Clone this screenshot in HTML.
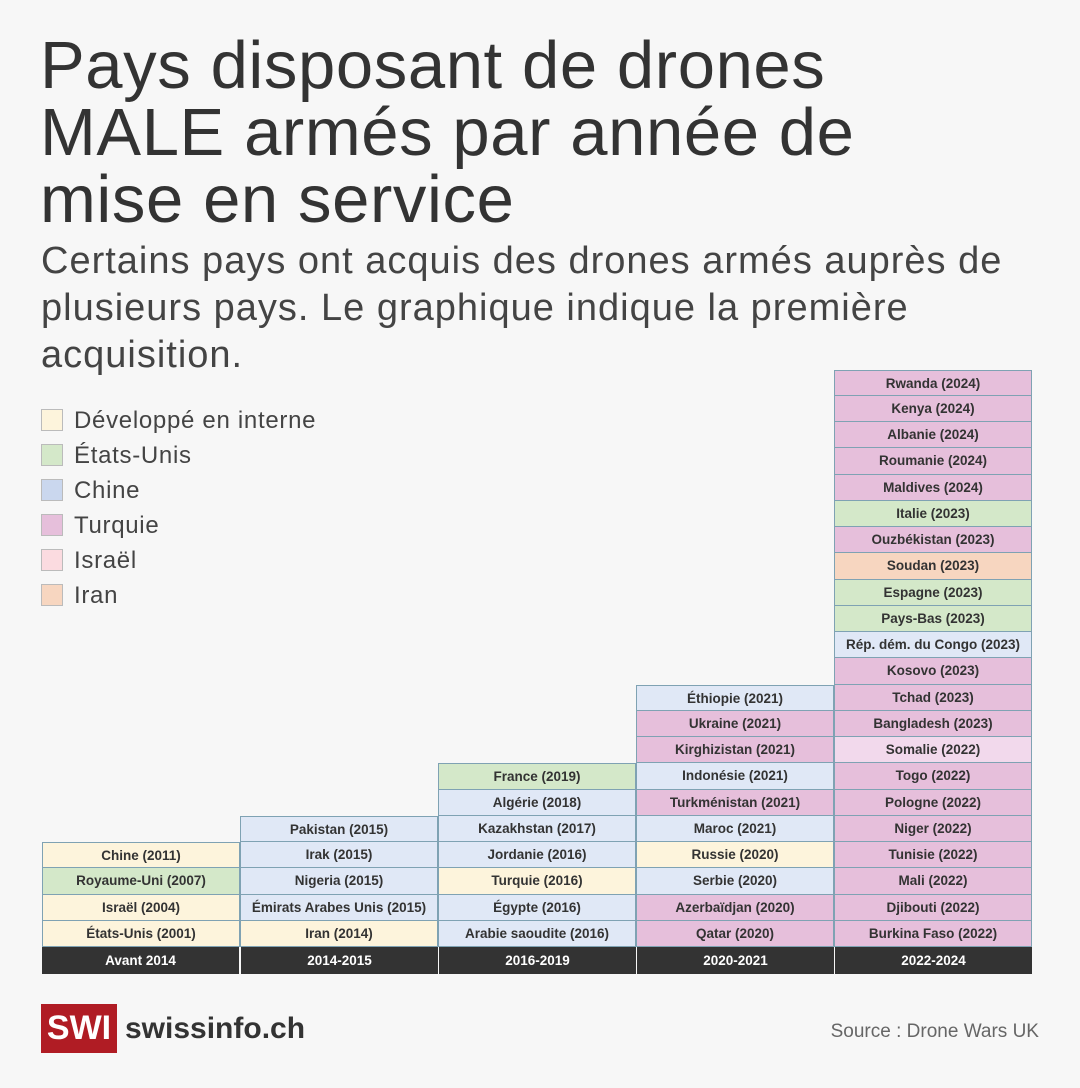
<!DOCTYPE html>
<html><head><meta charset="utf-8"><style>
body{margin:0;width:1080px;height:1088px;background:#f7f7f7;font-family:"Liberation Sans",sans-serif;position:relative;overflow:hidden;color:#333}
h1{position:absolute;left:40px;top:32px;margin:0;font-weight:400;font-size:67px;line-height:67px;color:#333;letter-spacing:0.6px}
.sub{position:absolute;left:41px;top:238px;font-size:38px;line-height:47px;color:#444;letter-spacing:1px}
.leg{position:absolute;left:41px;font-size:24px;letter-spacing:0.7px;color:#444;line-height:24px}
.leg span{display:inline-block;width:22px;height:22px;border:1px solid #bbb;vertical-align:-3px;margin-right:11px;box-sizing:border-box}
.c{position:absolute;width:198px;height:26.25px;box-sizing:border-box;border:1px solid #7fa2b3;border-top:none;font-size:13.5px;font-weight:bold;text-align:center;line-height:25px;color:#333}
.t{border-top:1px solid #7fa2b3}
.h{position:absolute;top:947px;height:27px;width:197px;background:#333;color:#fff;font-size:13.5px;font-weight:bold;text-align:center;line-height:27px}
</style></head><body>
<h1>Pays disposant de drones<br>MALE armés par année de<br>mise en service</h1>
<div class="sub">Certains pays ont acquis des drones armés auprès de<br>plusieurs pays. Le graphique indique la première<br>acquisition.</div>
<div class="leg" style="top:409px"><span style="background:#fdf4dc"></span>Développé en interne</div>
<div class="leg" style="top:444px"><span style="background:#d4e8c9"></span>États-Unis</div>
<div class="leg" style="top:479px"><span style="background:#cad7ee"></span>Chine</div>
<div class="leg" style="top:514px"><span style="background:#e6bfdb"></span>Turquie</div>
<div class="leg" style="top:549px"><span style="background:#fbdbe0"></span>Israël</div>
<div class="leg" style="top:584px"><span style="background:#f7d6c0"></span>Iran</div>
<div id="g"></div>
<div class="h" style="left:42px">Avant 2014</div>
<div class="h" style="left:241px">2014-2015</div>
<div class="h" style="left:439px">2016-2019</div>
<div class="h" style="left:637px">2020-2021</div>
<div class="h" style="left:835px">2022-2024</div>
<div style="position:absolute;left:41px;top:1004px;width:76px;height:49px;background:#b01c24;color:#fff;font-weight:bold;font-size:34px;line-height:49px;text-align:center">SWI</div>
<div style="position:absolute;left:125px;top:1007px;font-weight:bold;font-size:30px;line-height:44px;color:#333">swissinfo.ch</div>
<div style="position:absolute;right:41px;top:1021px;font-size:19px;color:#666">Source : Drone Wars UK</div>
<script>
var Y="#fdf4dc",G="#d4e8c9",B="#e0e8f6",T="#e6bfdb",S="#f2d9ec",I="#f7d6c0";
var cols=[
[["États-Unis (2001)",Y],["Israël (2004)",Y],["Royaume-Uni (2007)",G],["Chine (2011)",Y]],
[["Iran (2014)",Y],["Émirats Arabes Unis (2015)",B],["Nigeria (2015)",B],["Irak (2015)",B],["Pakistan (2015)",B]],
[["Arabie saoudite (2016)",B],["Égypte (2016)",B],["Turquie (2016)",Y],["Jordanie (2016)",B],["Kazakhstan (2017)",B],["Algérie (2018)",B],["France (2019)",G]],
[["Qatar (2020)",T],["Azerbaïdjan (2020)",T],["Serbie (2020)",B],["Russie (2020)",Y],["Maroc (2021)",B],["Turkménistan (2021)",T],["Indonésie (2021)",B],["Kirghizistan (2021)",T],["Ukraine (2021)",T],["Éthiopie (2021)",B]],
[["Burkina Faso (2022)",T],["Djibouti (2022)",T],["Mali (2022)",T],["Tunisie (2022)",T],["Niger (2022)",T],["Pologne (2022)",T],["Togo (2022)",T],["Somalie (2022)",S],["Bangladesh (2023)",T],["Tchad (2023)",T],["Kosovo (2023)",T],["Rép. dém. du Congo (2023)",B],["Pays-Bas (2023)",G],["Espagne (2023)",G],["Soudan (2023)",I],["Ouzbékistan (2023)",T],["Italie (2023)",G],["Maldives (2024)",T],["Roumanie (2024)",T],["Albanie (2024)",T],["Kenya (2024)",T],["Rwanda (2024)",T]]
];
var lefts=[42,240,438,636,834],h="";
cols.forEach(function(c,i){c.forEach(function(r,k){var top=947-26.25*(k+1);
h+='<div class="c'+(k==c.length-1?' t':'')+'" style="left:'+lefts[i]+'px;top:'+top+'px;background:'+r[1]+'">'+r[0]+'</div>';});});
document.getElementById("g").innerHTML=h;
</script>
</body></html>
